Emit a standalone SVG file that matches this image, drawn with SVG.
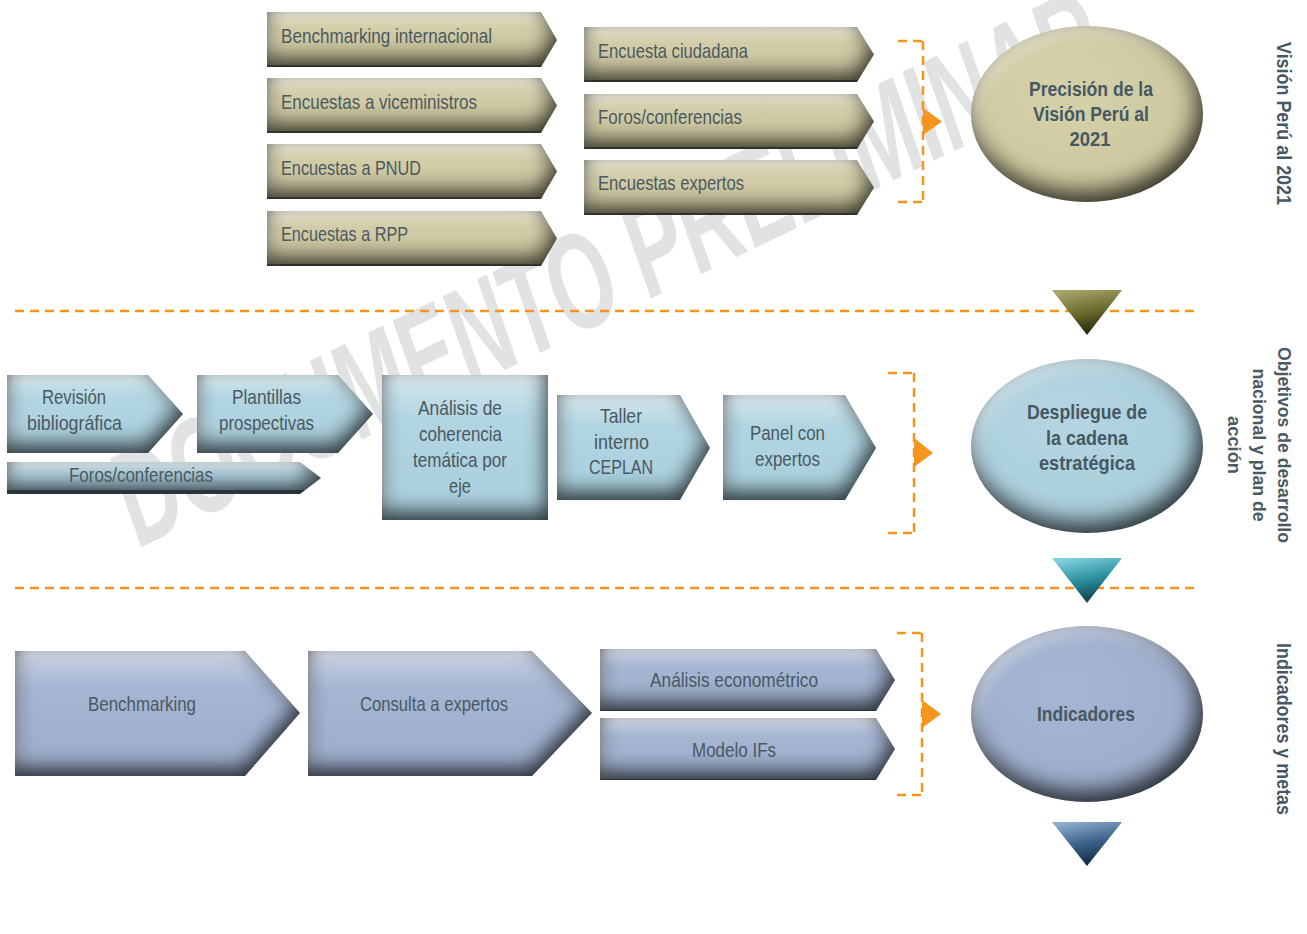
<svg xmlns="http://www.w3.org/2000/svg" width="1307" height="934" viewBox="0 0 1307 934">
<defs>
<style>
.t{font-family:"Liberation Sans Narrow","Liberation Sans",Arial,sans-serif;font-size:21px;fill:#4a5962}
.b{font-weight:bold;fill:#465863}
.c{text-anchor:middle}
.v{font-family:"Liberation Sans",Arial,sans-serif;font-size:18px;font-weight:bold;fill:#4a5962;text-anchor:middle}
.dash{fill:none;stroke:#f7941d;stroke-width:2.5;stroke-dasharray:9 6}
.arr{fill:#f7941d}
.kh{fill:url(#gKh);filter:url(#bev)}
.bl{fill:url(#gBl);filter:url(#bev)}
.pe{fill:url(#gPe);filter:url(#bev)}
</style>
<linearGradient id="gKh" x1="0" y1="0" x2="0" y2="1">
<stop offset="0" stop-color="#e6e2c8"/><stop offset="0.3" stop-color="#d2cda8"/><stop offset="1" stop-color="#c6c198"/>
</linearGradient>
<linearGradient id="gBl" x1="0" y1="0" x2="0" y2="1">
<stop offset="0" stop-color="#d4e8ef"/><stop offset="0.3" stop-color="#b2d5e2"/><stop offset="1" stop-color="#a8cedc"/>
</linearGradient>
<linearGradient id="gPe" x1="0" y1="0" x2="0" y2="1">
<stop offset="0" stop-color="#c9d2e4"/><stop offset="0.3" stop-color="#a5b5d2"/><stop offset="1" stop-color="#9cadcc"/>
</linearGradient>
<radialGradient id="rKh" cx="0.4" cy="0.35" r="0.7">
<stop offset="0" stop-color="#d6d1a9"/><stop offset="1" stop-color="#cbc69c"/>
</radialGradient>
<radialGradient id="rBl" cx="0.4" cy="0.35" r="0.7">
<stop offset="0" stop-color="#b4d6e2"/><stop offset="1" stop-color="#a8ccda"/>
</radialGradient>
<radialGradient id="rPe" cx="0.4" cy="0.35" r="0.7">
<stop offset="0" stop-color="#a5b5d2"/><stop offset="1" stop-color="#9cadcc"/>
</radialGradient>
<linearGradient id="gOl" x1="0.3" y1="0" x2="0.6" y2="1">
<stop offset="0" stop-color="#a5a56c"/><stop offset="0.5" stop-color="#6b6b2e"/><stop offset="1" stop-color="#1f1f05"/>
</linearGradient>
<linearGradient id="gTe" x1="0.3" y1="0" x2="0.6" y2="1">
<stop offset="0" stop-color="#7ed0dc"/><stop offset="0.5" stop-color="#2a8e9c"/><stop offset="1" stop-color="#0a3a44"/>
</linearGradient>
<linearGradient id="gNa" x1="0.3" y1="0" x2="0.6" y2="1">
<stop offset="0" stop-color="#8caaca"/><stop offset="0.5" stop-color="#3a6088"/><stop offset="1" stop-color="#0e2438"/>
</linearGradient>
<filter id="bev" color-interpolation-filters="sRGB">
<feGaussianBlur in="SourceAlpha" stdDeviation="10" result="b"/>
<feOffset in="b" dx="-2" dy="-8" result="o1"/>
<feComposite in="SourceAlpha" in2="o1" operator="out" result="e1"/>
<feFlood flood-color="#000" flood-opacity="0.75"/>
<feComposite in2="e1" operator="in" result="sh"/>
<feGaussianBlur in="SourceAlpha" stdDeviation="5" result="b2"/>
<feOffset in="b2" dx="5" dy="6" result="o2"/>
<feComposite in="SourceAlpha" in2="o2" operator="out" result="e2"/>
<feFlood flood-color="#fff" flood-opacity="0.4"/>
<feComposite in2="e2" operator="in" result="hl"/>
<feMerge><feMergeNode in="SourceGraphic"/><feMergeNode in="hl"/><feMergeNode in="sh"/></feMerge>
</filter>
<filter id="bevE" color-interpolation-filters="sRGB">
<feGaussianBlur in="SourceAlpha" stdDeviation="11" result="b"/>
<feOffset in="b" dx="-5" dy="-10" result="o1"/>
<feComposite in="SourceAlpha" in2="o1" operator="out" result="e1"/>
<feFlood flood-color="#000" flood-opacity="0.75"/>
<feComposite in2="e1" operator="in" result="sh"/>
<feGaussianBlur in="SourceAlpha" stdDeviation="7" result="b2"/>
<feOffset in="b2" dx="6" dy="8" result="o2"/>
<feComposite in="SourceAlpha" in2="o2" operator="out" result="e2"/>
<feFlood flood-color="#fff" flood-opacity="0.45"/>
<feComposite in2="e2" operator="in" result="hl"/>
<feMerge><feMergeNode in="SourceGraphic"/><feMergeNode in="hl"/><feMergeNode in="sh"/></feMerge>
</filter>
</defs>
<rect width="1307" height="934" fill="#fff"/>
<text id="watermark" transform="translate(140,548) rotate(-26)" font-family="Liberation Sans, Arial, sans-serif" font-size="136" font-weight="bold" font-style="italic" fill="#e1e2e4" textLength="1085" lengthAdjust="spacingAndGlyphs">DOCUMENTO PRELIMINAR</text>

<g id="connectors">
<path class="dash" d="M15,311 H1195"/>
<path class="dash" d="M15,588 H1195"/>
<path class="dash" d="M898,41 H924 M923,41 V203 M898,202 H924"/>
<path class="dash" d="M888,373 H915 M914,373 V534 M888,533 H915"/>
<path class="dash" d="M897,633 H923 M922,633 V796 M897,795 H923"/>
<polygon class="arr" points="923,108 942,121.5 923,135"/>
<polygon class="arr" points="914,438 933,453 914,467"/>
<polygon class="arr" points="922,700 941,714 922,728"/>
<polygon points="1052,290 1122,290 1087,335" fill="url(#gOl)"/>
<polygon points="1052,558 1122,558 1087,603" fill="url(#gTe)"/>
<polygon points="1052,822 1122,822 1087,866" fill="url(#gNa)"/>
</g>

<g id="n-bench-int"><polygon class="kh" points="267,12 541,12 557,40 541,67 267,67"/><text class="t" x="281" y="43" textLength="211" lengthAdjust="spacingAndGlyphs">Benchmarking internacional</text></g>
<g id="n-enc-vice"><polygon class="kh" points="267,78 541,78 557,105.5 541,133 267,133"/><text class="t" x="281" y="109" textLength="196" lengthAdjust="spacingAndGlyphs">Encuestas a viceministros</text></g>
<g id="n-enc-pnud"><polygon class="kh" points="267,144 541,144 557,171.5 541,199 267,199"/><text class="t" x="281" y="175" textLength="140" lengthAdjust="spacingAndGlyphs">Encuestas a PNUD</text></g>
<g id="n-enc-rpp"><polygon class="kh" points="267,211 541,211 557,238.5 541,266 267,266"/><text class="t" x="281" y="241" textLength="127" lengthAdjust="spacingAndGlyphs">Encuestas a RPP</text></g>
<g id="n-enc-ciud"><polygon class="kh" points="584,27 857,27 874,54.5 857,82 584,82"/><text class="t" x="598" y="58" textLength="150" lengthAdjust="spacingAndGlyphs">Encuesta ciudadana</text></g>
<g id="n-foros-top"><polygon class="kh" points="584,94 857,94 874,121.5 857,149 584,149"/><text class="t" x="598" y="124" textLength="144" lengthAdjust="spacingAndGlyphs">Foros/conferencias</text></g>
<g id="n-enc-exp"><polygon class="kh" points="584,160 857,160 874,187.5 857,215 584,215"/><text class="t" x="598" y="190" textLength="146" lengthAdjust="spacingAndGlyphs">Encuestas expertos</text></g>
<g id="n-vision"><ellipse cx="1087" cy="114" rx="116" ry="88" fill="url(#rKh)" filter="url(#bevE)"/>
<text class="t b c" x="1091" y="96" textLength="124" lengthAdjust="spacingAndGlyphs">Precisión de la</text>
<text class="t b c" x="1091" y="121" textLength="116" lengthAdjust="spacingAndGlyphs">Visión Perú al</text>
<text class="t b c" x="1090" y="146" textLength="41" lengthAdjust="spacingAndGlyphs">2021</text></g>
<g id="lbl-vision"><text class="t b c" transform="translate(1277,123.5) rotate(90)" textLength="163" lengthAdjust="spacingAndGlyphs">Visión Perú al 2021</text></g>

<g id="n-revision"><polygon class="bl" points="7,375 148,375 183,414 148,453 7,453"/>
<text class="t c" x="74" y="404" textLength="64" lengthAdjust="spacingAndGlyphs">Revisión</text>
<text class="t c" x="74.5" y="430" textLength="95" lengthAdjust="spacingAndGlyphs">bibliográfica</text></g>
<g id="n-plantillas"><polygon class="bl" points="197,375 338,375 373,414 338,453 197,453"/>
<text class="t c" x="266.5" y="404" textLength="69" lengthAdjust="spacingAndGlyphs">Plantillas</text>
<text class="t c" x="266.5" y="430" textLength="95" lengthAdjust="spacingAndGlyphs">prospectivas</text></g>
<g id="n-foros-mid"><polygon class="bl" points="7,462 300,462 321,478 300,494 7,494"/>
<text class="t c" x="141" y="482" textLength="144" lengthAdjust="spacingAndGlyphs">Foros/conferencias</text></g>
<g id="n-analisis"><rect class="bl" x="382" y="375" width="166" height="145"/>
<text class="t c" x="460" y="415" textLength="84" lengthAdjust="spacingAndGlyphs">Análisis de</text>
<text class="t c" x="460.5" y="441" textLength="83" lengthAdjust="spacingAndGlyphs">coherencia</text>
<text class="t c" x="460" y="467" textLength="94" lengthAdjust="spacingAndGlyphs">temática por</text>
<text class="t c" x="460" y="493" textLength="22" lengthAdjust="spacingAndGlyphs">eje</text></g>
<g id="n-taller"><polygon class="bl" points="557,395 680,395 710,448 680,500 557,500"/>
<text class="t c" x="621" y="423" textLength="42" lengthAdjust="spacingAndGlyphs">Taller</text>
<text class="t c" x="621.5" y="449" textLength="55" lengthAdjust="spacingAndGlyphs">interno</text>
<text class="t c" x="621" y="474" textLength="64" lengthAdjust="spacingAndGlyphs">CEPLAN</text></g>
<g id="n-panel"><polygon class="bl" points="723,395 845,395 876,448 845,500 723,500"/>
<text class="t c" x="787.5" y="440" textLength="75" lengthAdjust="spacingAndGlyphs">Panel con</text>
<text class="t c" x="787.5" y="466" textLength="65" lengthAdjust="spacingAndGlyphs">expertos</text></g>
<g id="n-despliegue"><ellipse cx="1087" cy="446" rx="116" ry="87" fill="url(#rBl)" filter="url(#bevE)"/>
<text class="t b c" x="1087" y="419" textLength="120" lengthAdjust="spacingAndGlyphs">Despliegue de</text>
<text class="t b c" x="1087" y="445" textLength="82" lengthAdjust="spacingAndGlyphs">la cadena</text>
<text class="t b c" x="1087" y="470" textLength="96" lengthAdjust="spacingAndGlyphs">estratégica</text></g>
<g id="lbl-objetivos"><text class="v" transform="translate(1278,445) rotate(90)"><tspan x="0" y="0" textLength="196" lengthAdjust="spacingAndGlyphs">Objetivos de desarrollo</tspan><tspan x="0" y="25" textLength="153" lengthAdjust="spacingAndGlyphs">nacional y plan de</tspan><tspan x="0" y="50" textLength="58" lengthAdjust="spacingAndGlyphs">acción</tspan></text></g>

<g id="n-bench"><polygon class="pe" points="15,651 245,651 300,713 245,776 15,776"/>
<text class="t c" x="142" y="711" textLength="108" lengthAdjust="spacingAndGlyphs">Benchmarking</text></g>
<g id="n-consulta"><polygon class="pe" points="308,651 532,651 592,713 532,776 308,776"/>
<text class="t c" x="434" y="711" textLength="148" lengthAdjust="spacingAndGlyphs">Consulta a expertos</text></g>
<g id="n-econ"><polygon class="pe" points="600,649 876,649 895,680 876,711 600,711"/>
<text class="t c" x="734" y="687" textLength="168" lengthAdjust="spacingAndGlyphs">Análisis econométrico</text></g>
<g id="n-ifs"><polygon class="pe" points="600,718 876,718 895,749 876,780 600,780"/>
<text class="t c" x="734" y="757" textLength="84" lengthAdjust="spacingAndGlyphs">Modelo IFs</text></g>
<g id="n-indicadores"><ellipse cx="1087" cy="714" rx="116" ry="88" fill="url(#rPe)" filter="url(#bevE)"/>
<text class="t b c" x="1086" y="721" textLength="98" lengthAdjust="spacingAndGlyphs">Indicadores</text></g>
<g id="lbl-indicadores"><text class="t b c" transform="translate(1277,729) rotate(90)" textLength="172" lengthAdjust="spacingAndGlyphs">Indicadores y metas</text></g>
</svg>
